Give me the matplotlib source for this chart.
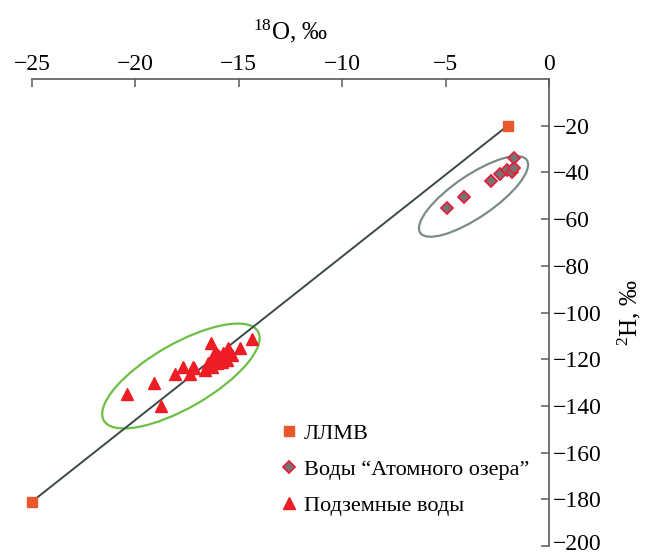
import matplotlib
matplotlib.use("Agg")
import matplotlib.pyplot as plt
import matplotlib.transforms as mtransforms
from matplotlib.patches import Ellipse

# ---- data ----
llmv_x = [-25.0, -2.0]
llmv_y = [-181.0, -20.0]

lake_x = [-4.95, -4.10, -2.82, -2.37, -2.05, -1.80, -1.68, -1.68]
lake_y = [-55.1, -50.4, -43.6, -40.7, -39.0, -39.7, -38.0, -34.0]

ground_x = [-20.39, -18.76, -19.09, -18.09, -17.68, -17.36, -17.17, -16.63,
            -16.36, -14.94, -14.35, -17.23, -16.47, -16.23, -15.99, -15.75,
            -15.51, -15.59, -15.83, -16.07, -15.34, -16.30, -16.15]
ground_y = [-134.7, -139.9, -130.1, -126.3, -123.2, -126.5, -123.9, -124.6,
            -113.2, -115.3, -111.5, -123.2, -121.8, -119.6, -118.2, -117.5,
            -115.3, -120.3, -121.1, -121.8, -118.2, -123.2, -116.8]

x_ticks = [-25, -20, -15, -10, -5, 0]
y_ticks = [-20, -40, -60, -80, -100, -120, -140, -160, -180, -200]

labels = ["ЛЛМВ", "Воды \u201cАтомного озера\u201d", "Подземные воды"]

plt.rcParams['font.family'] = ['Liberation Serif', 'DejaVu Serif']
plt.rcParams['mathtext.fontset'] = 'custom'
plt.rcParams['mathtext.rm'] = 'Liberation Serif'
plt.rcParams['mathtext.it'] = 'Liberation Serif:italic'

fig = plt.figure(figsize=(6.46, 5.55), dpi=100)
ax = fig.add_axes([32/646, 1-546/555, (549-32)/646, (546-79)/555])

ax.set_xlim(-25, 0)
ax.set_ylim(-200, 0)

# LMWL line
ax.plot(llmv_x, llmv_y, color='#3b4848', lw=1.4, zorder=2)

# ellipses (drawn in pixel units around a data-space centre)
def draw_ellipse(cx, cy, w, h, ang, color):
    tr = mtransforms.IdentityTransform() + mtransforms.ScaledTranslation(cx, cy, ax.transData)
    e = Ellipse((0, 0), w, h, angle=ang, transform=tr, fill=False,
                edgecolor=color, lw=1.6, zorder=1)
    ax.add_patch(e)

draw_ellipse(-3.65, -50.3, 129, 42, 34.3, '#7b8b8b')
draw_ellipse(-17.8, -127.2, 178, 64, 30.0, '#6cbf45')

ax.plot(llmv_x, llmv_y, ls='none', marker='s', ms=7.2, color='#e8582a',
        mec='#e8582a', label=labels[0], zorder=4, clip_on=False)
ax.plot(lake_x, lake_y, ls='none', marker='D', ms=6.0, mfc='#747474',
        mec='#e0233a', mew=1.3, label=labels[1], zorder=4)
ax.plot(ground_x, ground_y, ls='none', marker='^', ms=8.0, color='#ee1c25',
        mec='#ee1c25', label=labels[2], zorder=3)

# axes styling
for s in ['left', 'bottom']:
    ax.spines[s].set_visible(False)
for s in ['top', 'right']:
    ax.spines[s].set_color('#5a5a5a')
    ax.spines[s].set_linewidth(1.2)

ax.xaxis.set_ticks_position('top')
ax.xaxis.set_label_position('top')
ax.yaxis.set_ticks_position('right')
ax.yaxis.set_label_position('right')
ax.set_xticks(x_ticks)
ax.set_yticks(y_ticks)
ax.tick_params(axis='both', direction='in', length=6, width=1.1,
               color='#5a5a5a', labelsize=17, pad=3)
for t in ax.get_yticklabels():
    t.set_verticalalignment('center_baseline')
# nudge the bottom label up so it stays inside the canvas
last = ax.yaxis.get_major_ticks()[-1].label2
last.set_transform(last.get_transform() +
                   mtransforms.ScaledTranslation(0, 4/100, fig.dpi_scale_trans))

ax.set_xlabel(r'$^{18}$O, ‰', fontsize=18, labelpad=10)
ax.set_ylabel(r'$^{2}$H, ‰', fontsize=18, labelpad=10, rotation=90)

leg = ax.legend(loc='upper left', bbox_to_anchor=(0.483, 0.262), frameon=False,
                fontsize=16, handlelength=0.7, handletextpad=0.3,
                labelspacing=0.68, borderpad=0, borderaxespad=0)

fig.savefig('out.png', dpi=100)
